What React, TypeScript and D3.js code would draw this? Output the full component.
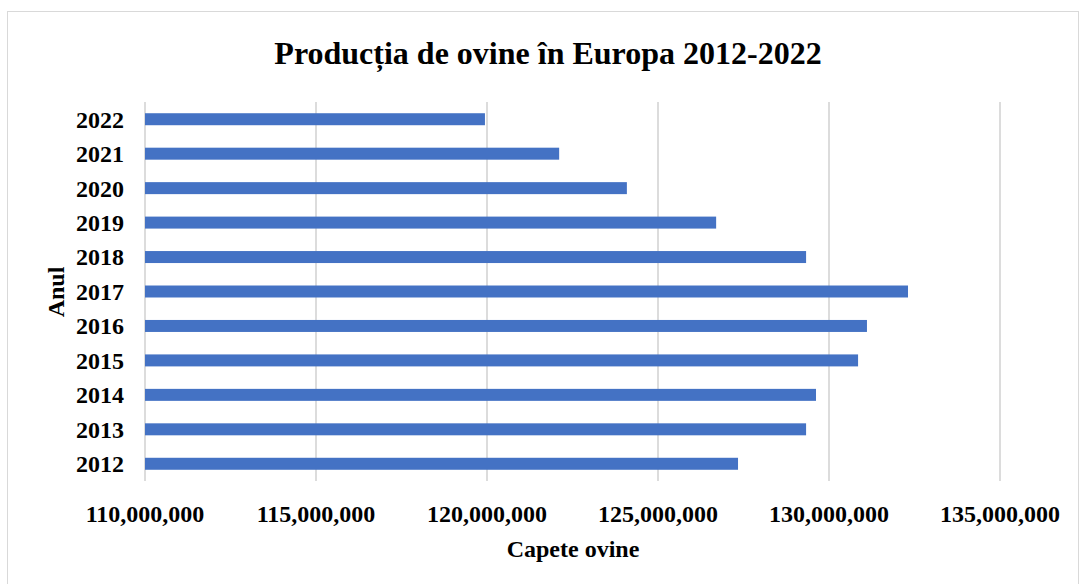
import React from "react";
import * as d3 from "d3";

const years = ["2012", "2013", "2014", "2015", "2016", "2017", "2018", "2019", "2020", "2021", "2022"];
const values = [127340000, 129330000, 129620000, 130850000, 131110000, 132310000, 129330000, 126700000, 124090000, 122110000, 119940000];
const xTicks = [110000000, 115000000, 120000000, 125000000, 130000000, 135000000];
const title = "Producția de ovine în Europa 2012-2022";
const xTitle = "Capete ovine";
const yTitle = "Anul";

const W = 1081;
const H = 584;
const FONT = "'Liberation Serif', 'Times New Roman', serif";

export default function App() {
  const x = d3.scaleLinear().domain([110000000, 135000000]).range([145, 1000]);
  const y = d3
    .scaleBand<string>()
    .domain([...years].reverse())
    .range([102, 481])
    .paddingInner(0.652)
    .paddingOuter(0.326);
  const fmt = d3.format(",");

  return (
    <svg
      width={W}
      height={H}
      style={{ position: "absolute", left: 0, top: 0, background: "#fff" }}
      fontFamily={FONT}
    >
      <rect x={0} y={0} width={W} height={H} fill="#fff" />
      <rect x={7.5} y={11.5} width={1071} height={580} fill="#fff" stroke="#d9d9d9" strokeWidth={1} />
      <text x={548} y={64} textAnchor="middle" fontSize={32} fontWeight="bold" fill="#000">
        {title}
      </text>
      {xTicks.map((t) => (
        <line key={"g" + t} x1={x(t)} x2={x(t)} y1={102} y2={481} stroke="#d9d9d9" strokeWidth={1.8} />
      ))}
      {years.map((yr, i) => (
        <rect
          key={yr}
          x={x(110000000)}
          y={y(yr)}
          width={x(values[i]) - x(110000000)}
          height={y.bandwidth()}
          fill="#4472C4"
        />
      ))}
      {years.map((yr) => (
        <text
          key={"l" + yr}
          x={124}
          y={(y(yr) as number) + y.bandwidth() / 2}
          dy="0.35em"
          textAnchor="end"
          fontSize={24}
          fontWeight="bold"
          fill="#000"
        >
          {yr}
        </text>
      ))}
      {xTicks.map((t) => (
        <text key={"t" + t} x={x(t)} y={522} textAnchor="middle" fontSize={24} fontWeight="bold" fill="#000">
          {fmt(t)}
        </text>
      ))}
      <text x={573} y={557} textAnchor="middle" fontSize={24} fontWeight="bold" fill="#000">
        {xTitle}
      </text>
      <text
        transform={`translate(64,292) rotate(-90)`}
        textAnchor="middle"
        fontSize={24}
        fontWeight="bold"
        fill="#000"
      >
        {yTitle}
      </text>
    </svg>
  );
}
